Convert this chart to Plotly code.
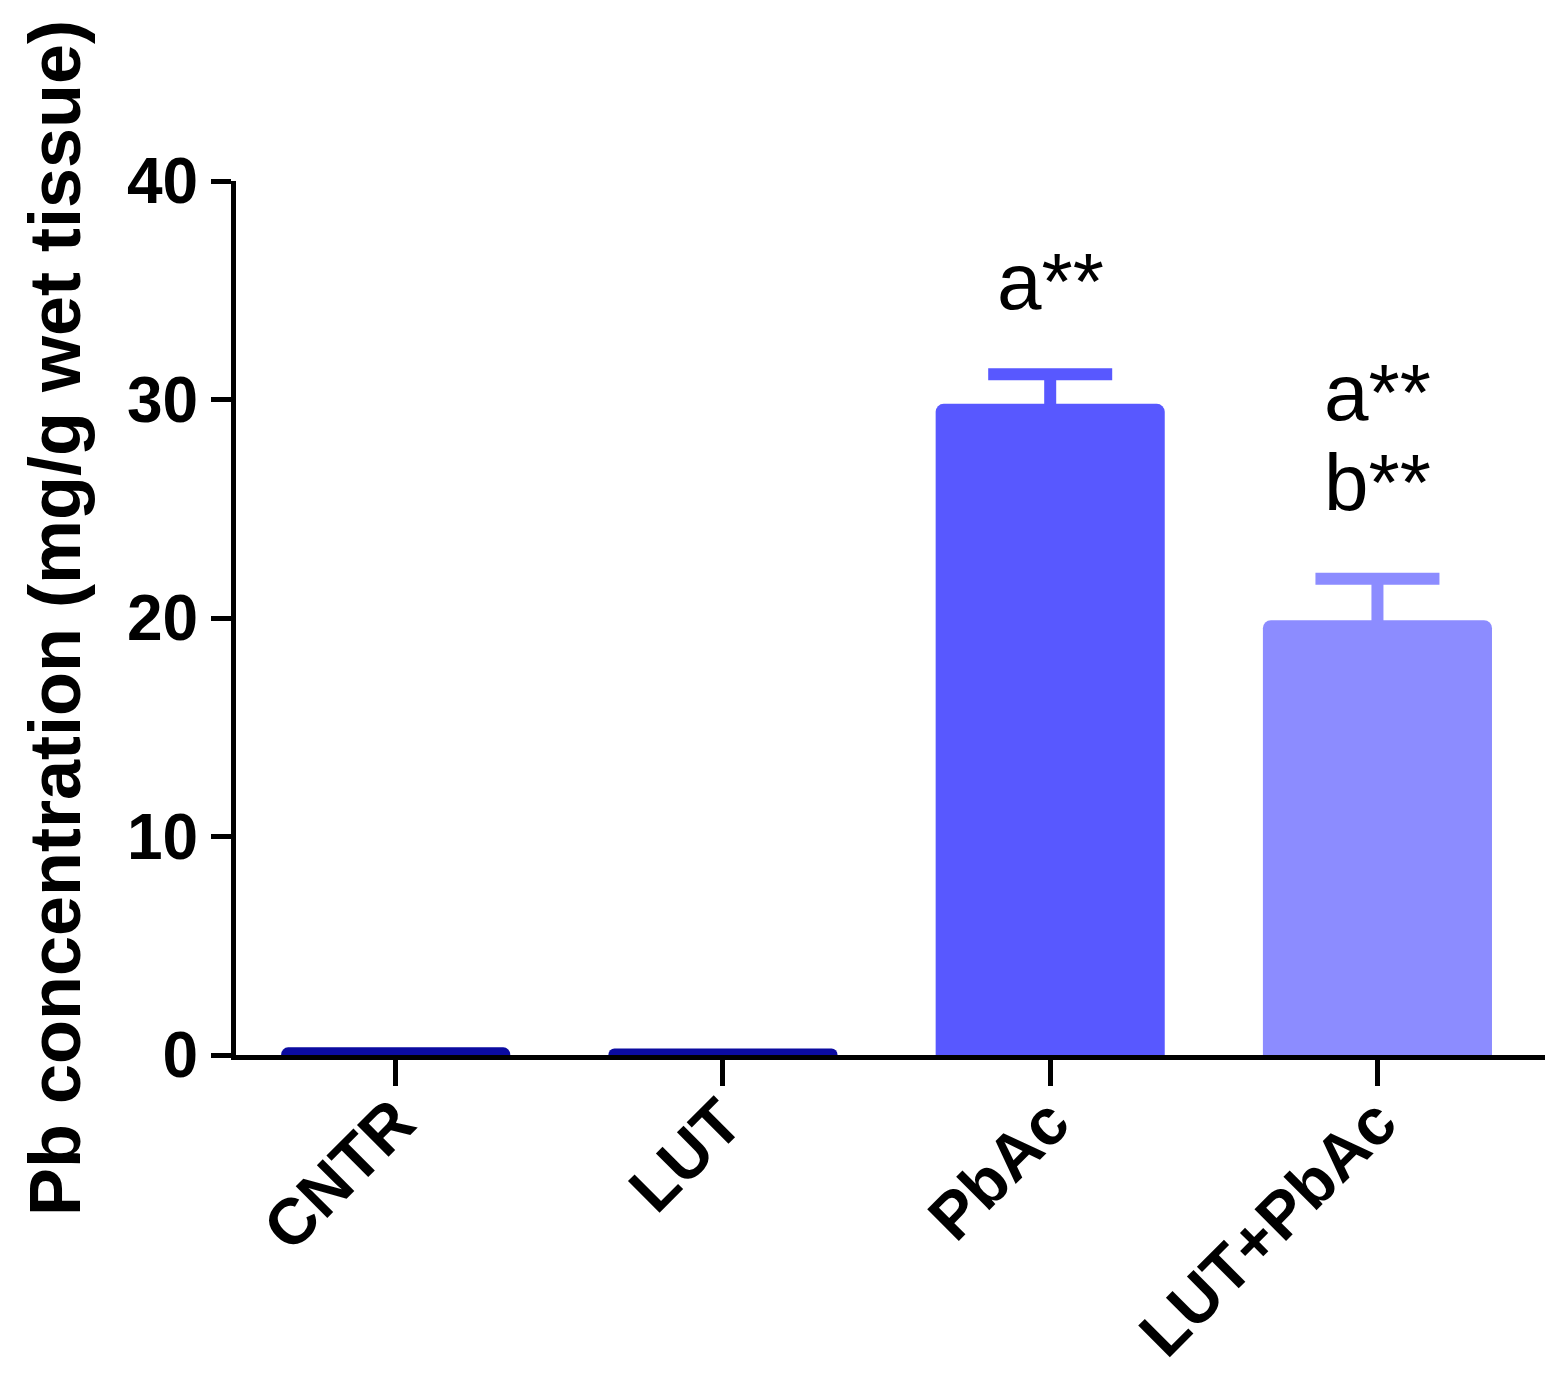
import plotly.graph_objects as go

groups = ["CNTR", "LUT", "PbAc", "LUT+PbAc"]
means = [0.35, 0.3, 29.8, 19.9]
errors = [0.0, 0.0, 1.35, 1.9]
colors = ["#0b0ba0", "#0b0ba0", "#5858ff", "#8c8cff"]

sig_labels = [
    ("PbAc", 35.4, "a**"),
    ("LUT+PbAc", 30.3, "a**"),
    ("LUT+PbAc", 26.2, "b**"),
]

fig = go.Figure()

# error bars first (transparent bars), so the real bars hide the lower half
for g, m, e, c in zip(groups, means, errors, colors):
    fig.add_trace(go.Bar(
        x=[g], y=[m], width=0.7,
        marker=dict(color="rgba(0,0,0,0)", line=dict(width=0)),
        error_y=dict(type="data", array=[e], color=c,
                     thickness=12, width=62, visible=e > 0),
        showlegend=False, hoverinfo="skip",
    ))

for g, m, c in zip(groups, means, colors):
    fig.add_trace(go.Bar(
        x=[g], y=[m], width=0.7,
        marker=dict(color=c, line=dict(width=0), cornerradius=8),
        showlegend=False,
    ))

for g, yv, txt in sig_labels:
    fig.add_annotation(
        x=g, y=yv, text=txt, showarrow=False,
        xanchor="center", yanchor="middle",
        font=dict(family="Liberation Sans, Arial", size=80, color="black"),
    )

fig.update_layout(
    width=1568,
    height=1388,
    barmode="overlay",
    plot_bgcolor="white",
    paper_bgcolor="white",
    margin=dict(l=228, r=31, t=173, b=341),
    font=dict(family="Liberation Sans, Arial", color="black"),
)

fig.update_xaxes(
    range=[-0.488, 3.512],
    automargin=False,
    showline=True, linecolor="black", linewidth=5,
    ticks="outside", ticklen=26, tickwidth=5, tickcolor="black",
    tickangle=-45,
    ticklabelstandoff=-28,
    tickfont=dict(size=65, family="Liberation Sans, Arial", weight="bold"),
    showgrid=False, zeroline=False,
)

fig.update_yaxes(
    range=[0, 40],
    automargin=False,
    tickvals=[0, 10, 20, 30, 40],
    showline=True, linecolor="black", linewidth=5,
    ticks="outside", ticklen=20, tickwidth=5, tickcolor="black",
    tickfont=dict(size=64, family="Liberation Sans, Arial", weight="bold"),
    showgrid=False, zeroline=False,
    title=dict(
        text="Pb concentration (mg/g wet tissue)",
        font=dict(size=72, family="Liberation Sans, Arial", weight="bold"),
        standoff=24,
    ),
)

fig.write_html("out.html")
